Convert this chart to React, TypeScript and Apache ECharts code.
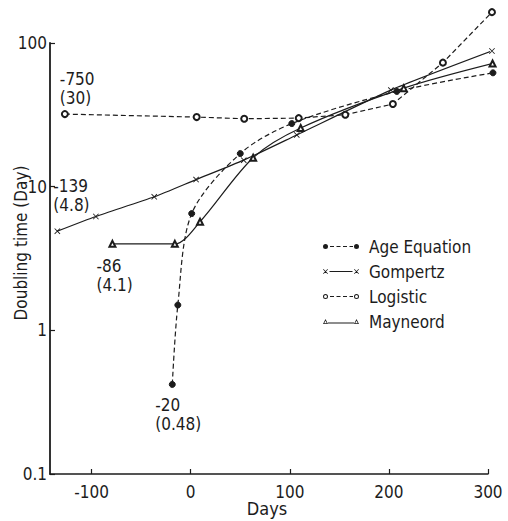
import React, { useEffect, useRef } from "react";
import * as echarts from "echarts";

const xTicks = [-100, 0, 100, 200, 300];
const yTicks = [0.1, 1, 10, 100];

const ageDays = [-18.6, -13, 1, 50, 102, 208, 305];
const ageDoubling = [0.42, 1.5, 6.5, 17, 27.5, 46, 62];
const gompDays = [-134.6, -95.7, -36.8, 5.4, 53.5, 107, 202, 304];
const gompDoubling = [4.9, 6.2, 8.5, 11.2, 15.3, 22.9, 47, 88];
const logDays = [-127, 6, 54, 109, 156, 204, 254.5, 304];
const logDoubling = [32, 30.5, 29.7, 30, 31.7, 37.6, 73, 164];
const mayDays = [-79, -16, 9.4, 63, 111, 215, 304.6];
const mayDoubling = [4, 4, 5.7, 15.9, 25.6, 48.5, 72];

const seriesNames = ["Age Equation", "Gompertz", "Logistic", "Mayneord"];
const firstLabels = ["-20\n(0.48)", "-139\n(4.8)", "-750\n(30)", "-86\n(4.1)"];

const FONT = "'Liberation Sans Narrow', 'DejaVu Sans Condensed', 'Roboto Condensed', 'DejaVu Sans', sans-serif";
const INK = "#1c1c1c";

const dot = (cx: number) => `M${cx - 2.5},2.5a2.5,2.5 0 1,0 5,0a2.5,2.5 0 1,0 -5,0z`;
const hole = (cx: number) => `M${cx - 1.5},2.5a1.5,1.5 0 1,1 3,0a1.5,1.5 0 1,1 -3,0z`;
const dashes = "M7,1.9h4v1.2h-4z M13.5,1.9h4v1.2h-4z M20,1.9h4v1.2h-4z M26.5,1.9h3.5v1.2h-3.5z";
const cross = (ox: number) =>
  `M${ox + 0.5},0L${ox + 5},4.5L${ox + 4.5},5L${ox},0.5Z M${ox + 4.5},0L${ox + 5},0.5L${ox + 0.5},5L${ox},4.5Z`;
const tri = (ox: number) =>
  `M${ox},5L${ox + 2.5},0L${ox + 5},5Z M${ox + 1.2},4.3L${ox + 3.8},4.3L${ox + 2.5},1.7Z`;

const legendIcons = [
  "path://" + dot(2.5) + " " + dot(33.5) + " " + dashes,
  "path://" + cross(0) + " " + cross(31) + " M6.5,2h23v1h-23z",
  "path://" + dot(2.5) + " " + hole(2.5) + " " + dot(33.5) + " " + hole(33.5) + " " + dashes,
  "path://" + tri(0) + " " + tri(31) + " M5,3.6h26v1h-26z",
];

const crossSymbol = "path://" + cross(0);

function build(days: number[], vals: number[], label: string, lab: any) {
  return days.map((d, i) =>
    i === 0
      ? {
          value: [d, vals[i]],
          label: {
            show: true,
            formatter: label,
            ...lab,
            align: "left",
            fontSize: 17,
            lineHeight: 19,
            color: INK,
            fontFamily: FONT,
          },
        }
      : { value: [d, vals[i]] }
  );
}

export default function App() {
  const ref = useRef<HTMLDivElement>(null);
  useEffect(() => {
    if (!ref.current) return;
    const chart = echarts.init(ref.current, undefined, { renderer: "svg" });
    const common = {
      type: "line",
      clip: false,
      color: INK,
      itemStyle: { color: INK, borderColor: INK, borderWidth: 1 },
    };
    chart.setOption({
      animation: false,
      backgroundColor: "#fff",
      grid: { left: 50, right: 20, top: 43, bottom: 47, containLabel: false },
      legend: {
        orient: "vertical",
        left: 323,
        top: 238,
        padding: 0,
        itemGap: 8,
        itemWidth: 36,
        itemHeight: 5,
        selectedMode: false,
        itemStyle: { borderWidth: 0 },
        textStyle: { fontSize: 17, color: INK, fontFamily: FONT, padding: [0, 0, 0, 5] },
        data: seriesNames.map((n, i) => ({ name: n, icon: legendIcons[i] })),
      },
      xAxis: {
        type: "value",
        min: -142,
        max: 300,
        axisLine: { onZero: false, lineStyle: { color: INK, width: 1.5 } },
        axisTick: { inside: true, length: 5, lineStyle: { color: INK, width: 1.2 }, customValues: xTicks },
        axisLabel: {
          customValues: xTicks,
          fontSize: 17,
          color: INK,
          fontFamily: FONT,
          margin: 9,
          formatter: (v: number) => String(v),
        },
        splitLine: { show: false },
      },
      yAxis: {
        type: "log",
        logBase: 10,
        min: 0.1,
        max: 100,
        axisLine: { show: true, onZero: false, lineStyle: { color: INK, width: 1.8 } },
        axisTick: { show: true, inside: true, length: 5, lineStyle: { color: INK, width: 1.2 } },
        axisLabel: {
          fontSize: 17,
          color: INK,
          fontFamily: FONT,
          margin: 3,
          formatter: (v: number) => {
            const r = +Number(v).toPrecision(3);
            return yTicks.some((t) => Math.abs(t - r) < 1e-9) ? String(r) : "";
          },
        },
        splitLine: { show: false },
        minorTick: { show: false },
      },
      graphic: [
        {
          type: "text",
          x: 21,
          y: 243,
          rotation: Math.PI / 2,
          style: {
            text: "Doubling time (Day)",
            fontSize: 17,
            fontFamily: FONT,
            fill: INK,
            align: "center",
            verticalAlign: "middle",
          },
        },
        {
          type: "text",
          x: 267,
          y: 508,
          style: {
            text: "Days",
            fontSize: 18,
            fontFamily: FONT,
            fill: INK,
            align: "center",
            verticalAlign: "middle",
          },
        },
      ],
      series: [
        {
          ...common,
          name: seriesNames[0],
          symbol: "circle",
          symbolSize: 6,
          smooth: 0.3,
          lineStyle: { color: INK, width: 1.2, type: [5, 3] },
          data: build(ageDays, ageDoubling, firstLabels[0], { position: "bottom", offset: [-17, 3] }),
        },
        {
          ...common,
          name: seriesNames[1],
          symbol: crossSymbol,
          symbolSize: 6,
          smooth: 0.2,
          itemStyle: { color: INK, borderWidth: 0 },
          lineStyle: { color: INK, width: 1.2, type: "solid" },
          data: build(gompDays, gompDoubling, firstLabels[1], { position: "top", offset: [-4, -9] }),
        },
        {
          ...common,
          name: seriesNames[2],
          symbol: "emptyCircle",
          symbolSize: 6,
          lineStyle: { color: INK, width: 1.2, type: [5, 3] },
          data: build(logDays, logDoubling, firstLabels[2], { position: "top", offset: [-5, 2] }),
        },
        {
          ...common,
          name: seriesNames[3],
          symbol: "emptyTriangle",
          symbolSize: 6,
          smooth: 0.3,
          lineStyle: { color: INK, width: 1.2, type: "solid" },
          data: build(mayDays, mayDoubling, firstLabels[3], { position: "bottom", offset: [-16, 4] }),
        },
      ],
    });
    return () => chart.dispose();
  }, []);
  return <div ref={ref} style={{ width: 508, height: 521, position: "absolute", left: 0, top: 0 }} />;
}
